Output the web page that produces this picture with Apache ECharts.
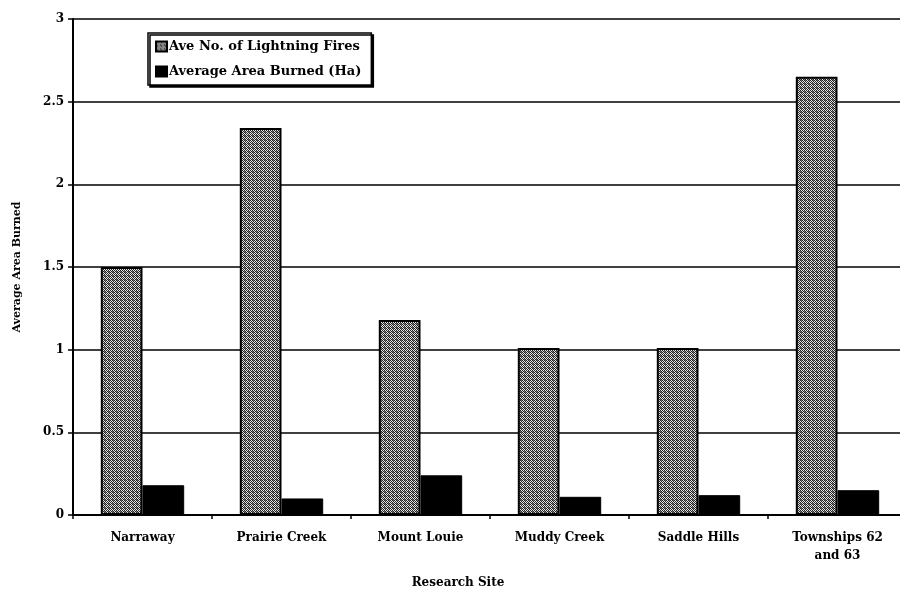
<!DOCTYPE html>
<html><head><meta charset="utf-8">
<script src="https://cdn.jsdelivr.net/npm/echarts@6/dist/echarts.min.js"></script>
<style>html,body{margin:0;padding:0;background:#fff;overflow:hidden;width:900px;height:594px}#c{width:910px;height:594px}</style>
</head><body><div id="c"></div>
<script>
var categories = ['Narraway', 'Prairie Creek', 'Mount Louie', 'Muddy Creek', 'Saddle Hills', 'Townships 62\nand 63'];
var lightningFires = [1.5, 2.34, 1.18, 1.01, 1.01, 2.65];
var areaBurned = [0.18, 0.10, 0.24, 0.11, 0.12, 0.15];
var seriesNames = ['Ave No. of Lightning Fires', 'Average Area Burned (Ha)'];
var yTicks = [0, 0.5, 1, 1.5, 2, 2.5, 3];

function makePattern() {
  var c = document.createElement('canvas');
  c.width = 4; c.height = 4;
  var g = c.getContext('2d');
  g.fillStyle = '#e6e6e6'; g.fillRect(0, 0, 4, 4);
  g.fillStyle = '#222';
  g.fillRect(0, 0, 1, 1); g.fillRect(2, 0, 1, 1);
  g.fillRect(1, 1, 1, 1); g.fillRect(3, 1, 1, 1);
  g.fillRect(0, 2, 1, 1); g.fillRect(2, 2, 1, 1);
  g.fillRect(1, 3, 1, 1); g.fillRect(3, 3, 1, 1);
  g.fillStyle = '#777';
  g.fillRect(1, 0, 1, 1); g.fillRect(0, 3, 1, 1);
  return c;
}
var pat = makePattern();
var font = '"DejaVu Serif", "Liberation Serif", serif';

var chart = echarts.init(document.getElementById('c'), null, {renderer: 'canvas'});
chart.setOption({
  backgroundColor: '#fff',
  animation: false,
  grid: {left: 73, top: 19, right: 3, bottom: 72, containLabel: false},
  legend: {
    orient: 'vertical', left: 148, top: 33, padding: [7, 10, 7, 7],
    itemGap: 12, itemWidth: 11, itemHeight: 10, icon: 'rect',
    borderColor: '#000', borderWidth: 1.5, backgroundColor: '#fff',
    shadowColor: '#000', shadowOffsetX: 2, shadowOffsetY: 2, shadowBlur: 0,
    textStyle: {fontFamily: font, fontWeight: 'bold', fontSize: 13, color: '#000', padding: [0, 0, 0, -3]},
    data: seriesNames
  },
  xAxis: {
    type: 'category', data: categories,
    name: 'Research Site', nameLocation: 'middle', nameGap: 62,
    nameTextStyle: {fontFamily: font, fontWeight: 'bold', fontSize: 12, color: '#000', padding: [0, 64, 0, 0]},
    axisLine: {lineStyle: {color: '#000', width: 2}},
    axisTick: {show: true, length: 4, lineStyle: {color: '#000', width: 1.5}},
    axisLabel: {fontFamily: font, fontWeight: 'bold', fontSize: 12, color: '#000', margin: 14, lineHeight: 18, interval: 0}
  },
  yAxis: {
    type: 'value', min: 0, max: 3, interval: 0.5,
    name: 'Average Area Burned', nameLocation: 'middle', nameGap: 50,
    nameTextStyle: {fontFamily: font, fontWeight: 'bold', fontSize: 11, color: '#000'},
    axisLine: {show: true, lineStyle: {color: '#000', width: 2}},
    axisTick: {show: true, length: 5, lineStyle: {color: '#000', width: 1.5}},
    axisLabel: {fontFamily: font, fontWeight: 'bold', fontSize: 12, color: '#000', margin: 9,
      formatter: function (v) { return yTicks.indexOf(v) >= 0 ? String(v) : ''; }},
    splitLine: {show: true, lineStyle: {color: '#000', width: 1.5}}
  },
  series: [
    {name: seriesNames[0], type: 'bar', data: lightningFires, barGap: '0%', barCategoryGap: '40%',
      itemStyle: {color: {image: pat, repeat: 'repeat'}, borderColor: '#000', borderWidth: 2}},
    {name: seriesNames[1], type: 'bar', data: areaBurned,
      itemStyle: {color: '#000', borderColor: '#000', borderWidth: 1}}
  ]
});
</script></body></html>
